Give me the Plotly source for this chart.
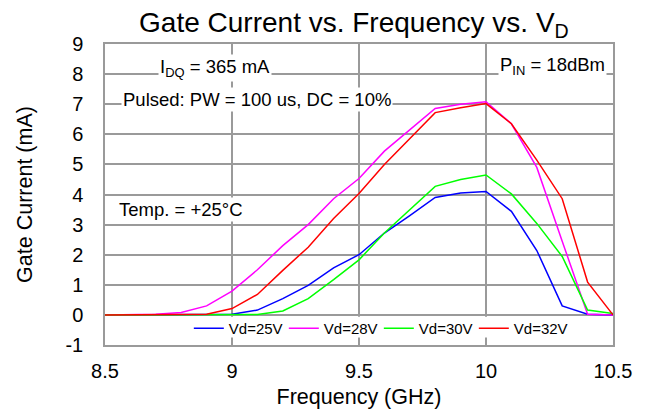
import plotly.graph_objects as go

freq = [8.5, 8.6, 8.7, 8.8, 8.9, 9.0, 9.1, 9.2, 9.3, 9.4, 9.5, 9.6, 9.7, 9.8, 9.9, 10.0, 10.1, 10.2, 10.3, 10.4, 10.5]
vd25 = [0, 0, 0, 0, 0, 0.02, 0.16, 0.54, 0.98, 1.56, 2.0, 2.72, 3.3, 3.9, 4.05, 4.1, 3.44, 2.14, 0.3, 0.02, 0]
vd28 = [0, 0, 0.02, 0.08, 0.3, 0.79, 1.5, 2.3, 3.0, 3.86, 4.53, 5.44, 6.14, 6.86, 7.0, 7.08, 6.35, 4.9, 2.45, 0.02, 0]
vd30 = [0, 0, 0, 0, 0, 0, 0.01, 0.13, 0.54, 1.17, 1.83, 2.72, 3.5, 4.27, 4.5, 4.65, 4.02, 3.04, 1.94, 0.16, 0.05]
vd32 = [0, 0, 0, 0, 0.02, 0.21, 0.68, 1.48, 2.25, 3.2, 4.03, 5.0, 5.86, 6.72, 6.88, 7.02, 6.35, 5.14, 3.86, 1.09, 0]

y_ticks = [-1, 0, 1, 2, 3, 4, 5, 6, 7, 8, 9]
y_tick_text = ["-1", "0", "1", "2", "3", "4", "5", "6", "7", "8", "9"]
x_ticks = [8.5, 9, 9.5, 10, 10.5]
x_tick_text = ["8.5", "9", "9.5", "10", "10.5"]

series = [("Vd=25V", vd25, "#0000ff"), ("Vd=28V", vd28, "#ff00ff"),
          ("Vd=30V", vd30, "#00ff00"), ("Vd=32V", vd32, "#ff0000")]

FONT = "Liberation Sans, Arial, sans-serif"
fig = go.Figure()
for name, vals, col in series:
    fig.add_trace(go.Scatter(x=freq, y=vals, mode="lines", name=name,
                             line=dict(color=col, width=1.5)))

annots = [
    dict(x=8.933, y=8.2, text="I<sub>DQ</sub> = 365 mA"),
    dict(x=9.10, y=7.15, text="Pulsed: PW = 100 us, DC = 10%"),
    dict(x=10.26, y=8.28, text="P<sub>IN</sub> = 18dBm"),
    dict(x=8.80, y=3.5, text="Temp. = +25°C"),
]
for a in annots:
    fig.add_annotation(x=a["x"], y=a["y"], xref="x", yref="y", text=a["text"],
                       showarrow=False, bgcolor="white",
                       font=dict(family=FONT, size=18.5, color="black"))

# white backing for the legend (below the zero line, hides grid lines)
fig.add_shape(type="rect", xref="paper", yref="paper", x0=0.165, x1=0.89,
              y0=0.025, y1=0.094, fillcolor="white", line=dict(width=0), layer="above")

GRID = "#9a9a9a"
fig.update_layout(
    width=639, height=411,
    margin=dict(l=97, r=34, t=36, b=74, autoexpand=False),
    paper_bgcolor="white", plot_bgcolor="white",
    font=dict(family=FONT, color="black"),
    title=dict(text="Gate Current vs. Frequency vs. V<sub>D</sub>", x=0.49, xref="paper",
               xanchor="center", y=0.966, yref="container", yanchor="middle",
               font=dict(family=FONT, size=28, color="black")),
    showlegend=True,
    legend=dict(orientation="h", x=0.165, xanchor="left", y=0.055, yanchor="middle",
                bgcolor="rgba(0,0,0,0)", font=dict(family=FONT, size=15), itemwidth=30,
                entrywidth=50, entrywidthmode="pixels", tracegroupgap=0),
    xaxis=dict(range=[8.5, 10.5], tickvals=x_ticks, ticktext=x_tick_text, showgrid=True,
               gridcolor=GRID, gridwidth=1.5, showline=True, linecolor=GRID, linewidth=1.5,
               mirror=True, zeroline=False, ticks="", tickfont=dict(size=20),
               ticklabelstandoff=7, automargin=False,
               title=dict(text="Frequency (GHz)", font=dict(size=21.5), standoff=8)),
    yaxis=dict(range=[-1, 9], tickvals=y_ticks, ticktext=y_tick_text, showgrid=True,
               gridcolor=GRID, gridwidth=1.5, showline=True, linecolor=GRID, linewidth=1.5,
               mirror=True, zeroline=False, ticks="", tickfont=dict(size=20),
               ticklabelstandoff=16, automargin=False,
               title=dict(text="Gate Current (mA)", font=dict(size=21.5), standoff=27)),
)
fig.write_html("out.html")
